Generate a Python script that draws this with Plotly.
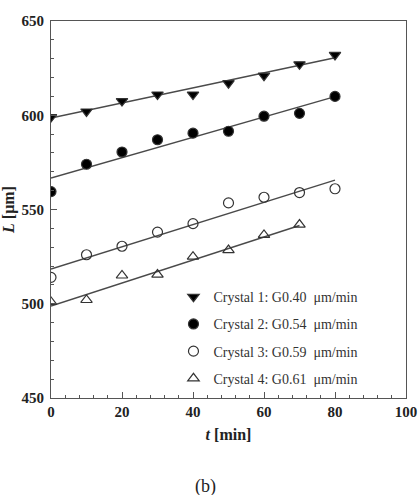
import plotly.graph_objects as go

t_vals = [0, 10, 20, 30, 40, 50, 60, 70, 80]
crystal1 = [599, 602, 607.5, 611, 611, 617, 621, 627, 632]
crystal2 = [559.5, 574, 580.5, 587, 590.5, 591.5, 599.5, 601, 610]
crystal3 = [514, 526, 530.5, 538, 542.5, 553.5, 556.5, 559, 561]
t4_vals = [0, 10, 20, 30, 40, 50, 60, 70]
crystal4 = [501, 502, 515, 515.5, 525, 528.5, 536.5, 542]

names = ["Crystal 1: G0.40  μm/min", "Crystal 2: G0.54  μm/min",
         "Crystal 3: G0.59  μm/min", "Crystal 4: G0.61  μm/min"]
fit_intercepts = [598.5, 566.7, 518.4, 498.8]
fit_slopes = [0.40, 0.54, 0.59, 0.61]
fit_ends = [80, 80, 80, 70]

symbols = ["triangle-down", "circle", "circle-open", "triangle-up-open"]
line_col = "#4a4a4a"

fig = go.Figure()
series = [(t_vals, crystal1), (t_vals, crystal2), (t_vals, crystal3), (t4_vals, crystal4)]

for i in range(4):
    x0, x1 = 0, fit_ends[i]
    fig.add_trace(go.Scatter(
        x=[x0, x1],
        y=[fit_intercepts[i] + fit_slopes[i] * x0, fit_intercepts[i] + fit_slopes[i] * x1],
        mode="lines", line=dict(color=line_col, width=1.4), showlegend=False, hoverinfo="skip"))

for i, (xs, ys) in enumerate(series):
    fig.add_trace(go.Scatter(
        x=xs, y=ys, mode="markers", name=names[i], legendgroup="g%d" % i,
        marker=dict(symbol=symbols[i], size=10,
                    color="black" if i < 2 else "#333333",
                    line=dict(color="#333333", width=1.2))))

axis_common = dict(
    showgrid=False, zeroline=False, showline=True, linecolor="#555555", linewidth=1.2,
    mirror=True, ticks="inside", ticklen=6, tickcolor="#555555", tickwidth=1,
    automargin=False,
    tickfont=dict(family="Liberation Serif", size=15, color="#222222", weight="bold"),
)

fig.update_xaxes(range=[0, 100], dtick=20,
                 minor=dict(dtick=4, ticks="inside", ticklen=3, tickcolor="#555555"),
                 title=dict(text="<i>t</i> [min]", standoff=9,
                            font=dict(family="Liberation Serif", size=16, color="#222222", weight="bold")),
                 **axis_common)
fig.update_yaxes(range=[450, 650], dtick=50, ticklabelstandoff=3,
                 minor=dict(dtick=10, ticks="inside", ticklen=3, tickcolor="#555555"),
                 title=dict(text="<i>L</i> [μm]", standoff=4,
                            font=dict(family="Liberation Serif", size=16, color="#222222", weight="bold")),
                 **axis_common)

fig.add_annotation(text="(b)", xref="paper", yref="paper", x=0.434, y=-0.236,
                   showarrow=False, xanchor="center", yanchor="middle",
                   font=dict(family="Liberation Serif", size=18, color="#222222"))

fig.update_layout(
    width=419, height=495,
    margin=dict(l=51, r=13, t=21, b=97),
    paper_bgcolor="white", plot_bgcolor="white",
    legend=dict(x=0.345, y=0.31, xanchor="left", yanchor="top",
                bgcolor="rgba(0,0,0,0)", tracegroupgap=6,
                font=dict(family="Liberation Serif", size=14, color="#333333")),
)

fig.write_html("out.html")
